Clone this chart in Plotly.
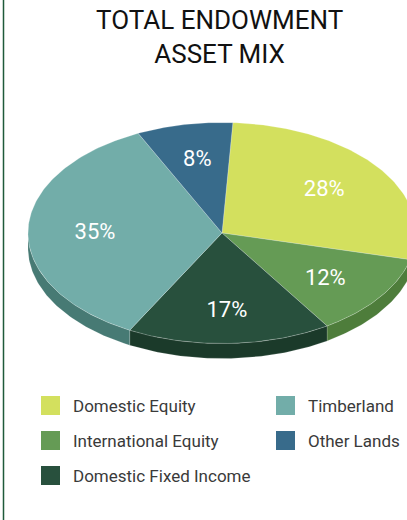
import math
import plotly.graph_objects as go

# ---- data ----
categories = ["Domestic Equity", "International Equity", "Domestic Fixed Income", "Timberland", "Other Lands"]
values = [28, 12, 17, 35, 8]
labels = ["28%", "12%", "17%", "35%", "8%"]
top_colors = ["#d3e05e", "#659b55", "#28503d", "#72ada9", "#386b8b"]
side_colors = ["#a9b549", "#4e7d3b", "#1b3a2a", "#477a74", "#2a536c"]
legend_order = ["Domestic Equity", "International Equity", "Domestic Fixed Income", "Timberland", "Other Lands"]
title_text = "TOTAL ENDOWMENT<br>ASSET MIX"

# ---- geometry (pixel space) ----
W, H = 407, 520
cx, cy, rx, ry, depth = 222.0, 233.0, 194.0, 110.5, 15.0
start_deg = 3.2
fx, fy = 0.655, 0.69


def pt(t_deg, dy=0.0):
    t = math.radians(t_deg)
    return cx + rx * math.sin(t), cy - ry * math.cos(t) + dy


def arc(a, b, dy=0.0, n=None):
    if n is None:
        n = max(4, int(abs(b - a) / 1.0))
    xs, ys = [], []
    for i in range(n + 1):
        x, y = pt(a + (b - a) * i / n, dy)
        xs.append(x)
        ys.append(y)
    return xs, ys


fig = go.Figure()

total = sum(values)
bounds = []
t = start_deg
for v in values:
    span = 360.0 * v / total
    bounds.append((t, t + span))
    t += span

# sides (visible part between 90 and 270 deg)
for (a, b), col in zip(bounds, side_colors):
    lo, hi = max(a, 90.0), min(b, 270.0)
    if hi <= lo:
        continue
    ux, uy = arc(lo, hi)
    lx, ly = arc(hi, lo, depth)
    fig.add_trace(go.Scatter(x=ux + lx + [ux[0]], y=uy + ly + [uy[0]], mode="lines",
                             fill="toself", fillcolor=col,
                             line=dict(color="rgba(255,255,255,0.25)", width=0.6),
                             hoverinfo="skip", showlegend=False))

# top faces
for (a, b), col, name in zip(bounds, top_colors, categories):
    ax_, ay_ = arc(a, b)
    fig.add_trace(go.Scatter(x=[cx] + ax_ + [cx], y=[cy] + ay_ + [cy], mode="lines",
                             fill="toself", fillcolor=col,
                             line=dict(color="rgba(255,255,255,0.35)", width=0.6),
                             name=name, showlegend=False, hoverinfo="name"))

# slice labels
lx_, ly_ = [], []
for (a, b) in bounds:
    m = math.radians((a + b) / 2)
    lx_.append(cx + rx * fx * math.sin(m))
    ly_.append(cy - ry * fy * math.cos(m) + 2.5)
fig.add_trace(go.Scatter(x=lx_, y=ly_, mode="text", text=labels,
                         textfont=dict(family="Roboto", size=22, color="white"),
                         hoverinfo="skip", showlegend=False))

# ---- legend (manual, 2 columns) ----
shapes = []
annotations = []
col_x = [41, 276]
row_y = [405.5, 440.5, 475.5]
sq = 19
legend_cols = [legend_order[:3], legend_order[3:]]
for ci, items in enumerate(legend_cols):
    for ri, name in enumerate(items):
        color = top_colors[categories.index(name)]
        x0 = col_x[ci]
        yc = row_y[ri]
        shapes.append(dict(type="rect", xref="x", yref="y", x0=x0, x1=x0 + sq,
                           y0=yc - sq / 2, y1=yc + sq / 2, fillcolor=color,
                           line=dict(width=0)))
        annotations.append(dict(x=x0 + sq + 11, y=yc, xref="x", yref="y", text=name,
                                showarrow=False, xanchor="left", yanchor="middle",
                                font=dict(family="Roboto", size=17, color="#3a3a3a")))

# left border line
shapes.append(dict(type="line", xref="x", yref="paper", x0=3.5, x1=3.5, y0=0, y1=1,
                   line=dict(color="#1f5a3a", width=1.5)))

# title
annotations.append(dict(x=219, y=37, xref="x", yref="y",
                        text=title_text, showarrow=False,
                        xanchor="center", yanchor="middle", align="center",
                        font=dict(family="Roboto", size=26, color="#111111")))

fig.update_layout(
    width=W, height=H,
    margin=dict(l=0, r=0, t=0, b=0),
    paper_bgcolor="white", plot_bgcolor="white",
    xaxis=dict(range=[0, W], visible=False, fixedrange=True),
    yaxis=dict(range=[H, 0], visible=False, fixedrange=True),
    shapes=shapes, annotations=annotations,
    showlegend=False,
)

fig.write_html("out.html", config={"displayModeBar": False},
               post_script="document.body.style.margin='0';document.body.style.overflow='hidden';")
